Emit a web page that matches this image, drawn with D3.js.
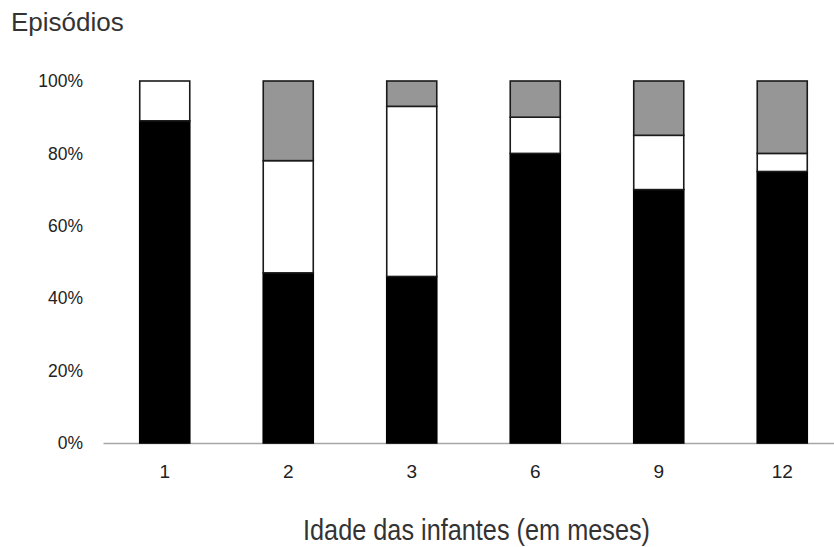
<!DOCTYPE html>
<html>
<head>
<meta charset="utf-8">
<script src="https://cdn.jsdelivr.net/npm/d3@7"></script>
<style>
  body { margin: 0; background: #fff; }
  .y-axis text { font-family: "Liberation Sans", Arial, sans-serif; font-size: 17.5px; fill: #222; }
  .x-axis text { font-family: "Liberation Sans", Arial, sans-serif; font-size: 19px; fill: #222; }
</style>
</head>
<body>
<div id="chart"></div>
<script>
// categories: age in months
var ages = ["1", "2", "3", "6", "9", "12"];
// series (percent of episodes), stacked bottom to top
var blackSeries = [89, 47, 46, 80, 70, 75];
var whiteSeries = [11, 31, 47, 10, 15, 5];
var graySeries  = [0, 22, 7, 10, 15, 20];
var yTicks = [0, 20, 40, 60, 80, 100];

var width = 834, height = 547;
var margin = { top: 81, left: 103, bottom: 104 };
var plotW = 741, plotH = height - margin.top - margin.bottom;

var svg = d3.select("#chart").append("svg")
    .attr("width", width)
    .attr("height", height);

var g = svg.append("g")
    .attr("transform", "translate(" + margin.left + "," + margin.top + ")");

var x = d3.scaleBand()
    .domain(ages)
    .range([0, plotW])
    .paddingInner(0.595)
    .paddingOuter(0.2975);

var y = d3.scaleLinear()
    .domain([0, 100])
    .range([plotH, 0]);

var rows = ages.map(function(a, i) {
    return { age: a, black: blackSeries[i], white: whiteSeries[i], gray: graySeries[i] };
});

var keys = ["black", "white", "gray"];
var fills = { black: "#000", white: "#fff", gray: "#969696" };
var strokes = { black: "#000", white: "#1a1a1a", gray: "#1a1a1a" };

var layers = d3.stack().keys(keys)(rows);

// y axis labels only
var yAxis = d3.axisLeft(y)
    .tickValues(yTicks)
    .tickSize(0)
    .tickPadding(20)
    .tickFormat(function(d) { return d + "%"; });

g.append("g")
    .attr("class", "y-axis")
    .call(yAxis)
    .call(function(s) { s.select(".domain").remove(); });

// x axis baseline
var xAxis = d3.axisBottom(x).tickSize(0).tickPadding(22);
g.append("g")
    .attr("class", "x-axis")
    .attr("transform", "translate(0," + plotH + ")")
    .call(xAxis)
    .call(function(s) {
        s.select(".domain").attr("stroke", "#a6a6a6").attr("stroke-width", 1.5);
    });

g.selectAll("g.layer")
    .data(layers)
    .enter().append("g")
    .attr("class", "layer")
    .attr("fill", function(d) { return fills[d.key]; })
    .attr("stroke", function(d) { return strokes[d.key]; })
    .attr("stroke-width", 1.6)
    .selectAll("rect")
    .data(function(d) { return d.filter(function(p) { return p[1] > p[0]; }); })
    .enter().append("rect")
    .attr("x", function(d) { return x(d.data.age); })
    .attr("y", function(d) { return y(d[1]); })
    .attr("width", x.bandwidth())
    .attr("height", function(d) { return y(d[0]) - y(d[1]); });

// title and x label
svg.append("text")
    .attr("x", 11)
    .attr("y", 31)
    .attr("fill", "#333")
    .style("font-family", "'Liberation Sans', Arial, sans-serif")
    .style("font-size", "26px")
    .text("Episódios");

svg.append("text")
    .attr("x", 303)
    .attr("y", 540)
    .attr("textLength", 347)
    .attr("lengthAdjust", "spacingAndGlyphs")
    .attr("fill", "#333")
    .style("font-family", "'Liberation Sans', Arial, sans-serif")
    .style("font-size", "29px")
    .text("Idade das infantes (em meses)");
</script>
</body>
</html>
